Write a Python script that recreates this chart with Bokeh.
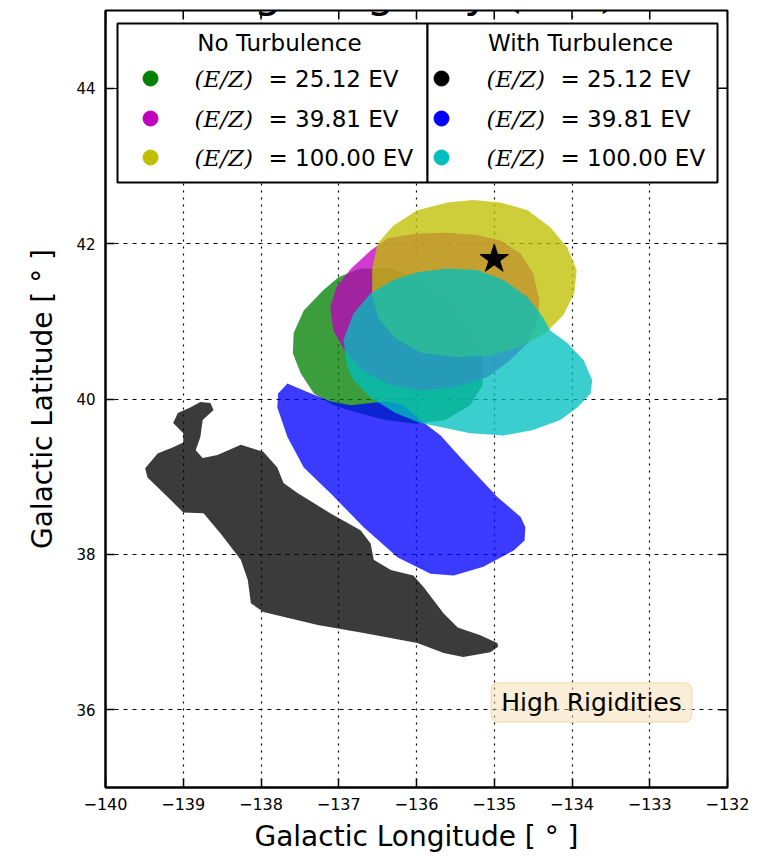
from bokeh.plotting import figure
from bokeh.models import Range1d, FixedTicker, Label, BoxAnnotation
from bokeh.embed import file_html
from bokeh.resources import INLINE

# ---------------- data ----------------
x_ticks = [-140, -139, -138, -137, -136, -135, -134, -133, -132]
x_tick_labels = ["−140", "−139", "−138", "−137", "−136", "−135", "−134", "−133", "−132"]
y_ticks = [36, 38, 40, 42, 44]
y_tick_labels = ["36", "38", "40", "42", "44"]

energies = ["25.12", "39.81", "100.00"]
no_turb_colors = ["#008000", "#bf00bf", "#bfbf00"]
turb_colors = ["#000000", "#0000ff", "#00bfbf"]

# No turbulence, E/Z = 25.12 EV (green)
nt25_lon = [-137.00, -137.20, -137.45, -137.58, -137.59, -137.49, -137.32, -137.07, -136.78, -136.40,
            -136.01, -135.63, -135.31, -135.15, -135.15, -135.31, -135.56, -135.95, -136.33, -136.72]
nt25_lat = [41.57, 41.40, 41.14, 40.85, 40.59, 40.33, 40.07, 39.92, 39.83, 39.73,
            39.68, 39.73, 39.92, 40.18, 40.56, 40.95, 41.27, 41.53, 41.68, 41.68]
# No turbulence, E/Z = 39.81 EV (magenta)
nt39_lon = [-136.59, -136.37, -135.99, -135.60, -135.22, -134.92, -134.66, -134.50, -134.42, -134.44, -134.57,
            -134.83, -135.09, -135.52, -135.95, -136.33, -136.66, -136.91, -137.07, -137.11, -137.03, -136.84]
nt39_lat = [41.91, 42.07, 42.13, 42.14, 42.11, 42.04, 41.87, 41.62, 41.27, 41.01, 40.72,
            40.47, 40.28, 40.15, 40.11, 40.18, 40.34, 40.60, 40.88, 41.18, 41.44, 41.68]
# No turbulence, E/Z = 100.00 EV (yellow)
nt100_lon = [-136.50, -136.30, -135.99, -135.60, -135.27, -134.92, -134.57, -134.28, -134.06, -133.94, -133.97,
             -134.11, -134.34, -134.66, -135.05, -135.50, -135.95, -136.27, -136.49, -136.57, -136.57]
nt100_lat = [42.00, 42.23, 42.43, 42.53, 42.56, 42.53, 42.43, 42.21, 41.95, 41.66, 41.36,
             41.08, 40.85, 40.67, 40.56, 40.54, 40.60, 40.78, 41.04, 41.33, 41.68]
# With turbulence, E/Z = 25.12 EV (black)
wt25_lon = [-134.96, -134.95, -135.05, -135.40, -135.65, -135.99, -136.68, -137.27, -137.97, -138.13, -138.17,
            -138.26, -138.52, -138.74, -139.00, -139.20, -139.46, -139.49, -139.33, -139.13, -139.00, -139.00,
            -139.13, -139.07, -138.91, -138.78, -138.65, -138.61, -138.75, -138.78, -138.84, -138.75, -138.56,
            -138.26, -137.97, -137.79, -137.71, -137.53, -137.11, -136.72, -136.59, -136.55, -136.33, -136.04,
            -135.91, -135.65, -135.47, -135.18]
wt25_lat = [36.86, 36.81, 36.74, 36.68, 36.73, 36.86, 36.99, 37.09, 37.26, 37.37, 37.67,
            37.93, 38.27, 38.53, 38.54, 38.74, 38.99, 39.11, 39.30, 39.38, 39.44, 39.56,
            39.69, 39.82, 39.89, 39.96, 39.95, 39.86, 39.73, 39.51, 39.34, 39.24, 39.28,
            39.41, 39.32, 39.12, 38.92, 38.79, 38.53, 38.31, 38.14, 37.93, 37.80, 37.73,
            37.58, 37.24, 37.06, 36.96]
# With turbulence, E/Z = 39.81 EV (blue)
wt39_lon = [-137.66, -137.45, -137.11, -136.85, -136.59, -136.37, -136.17, -135.95, -135.69, -135.40, -134.96,
            -134.66, -134.60, -134.61, -134.75, -135.14, -135.52, -135.82, -136.24, -136.68, -137.11, -137.45,
            -137.66, -137.79, -137.78]
wt39_lat = [40.20, 40.11, 39.97, 39.92, 39.95, 39.97, 39.92, 39.73, 39.53, 39.21, 38.74,
            38.48, 38.35, 38.18, 38.05, 37.84, 37.73, 37.75, 37.96, 38.35, 38.79, 39.12,
            39.51, 39.89, 40.07]
# With turbulence, E/Z = 100.00 EV (cyan)
wt100_lon = [-135.60, -135.22, -134.88, -134.57, -134.37, -134.28, -134.06, -133.85, -133.74, -133.76, -133.93,
             -134.15, -134.50, -134.88, -135.31, -135.69, -135.95, -136.27, -136.59, -136.81, -136.89, -136.94,
             -136.81, -136.59, -136.30, -135.99]
wt100_lat = [41.68, 41.66, 41.53, 41.31, 41.05, 40.88, 40.72, 40.50, 40.24, 40.07, 39.89,
             39.73, 39.60, 39.53, 39.56, 39.64, 39.69, 39.82, 40.02, 40.24, 40.41, 40.76,
             41.10, 41.36, 41.53, 41.63]

star_lon = [-135.0]
star_lat = [41.8]

# ---------------- layout helpers (pixel -> data, for annotations only) ----------------
FL, FW, FT, FH = 105, 622, 10, 777
X0, X1, Y0, Y1 = -140, -132, 35, 45
def sx(px):
    return X0 + (px - FL) * (X1 - X0) / FW
def sy(py):
    return Y1 - (py - FT) * (Y1 - Y0) / FH
TICK = 9  # inward tick length in px
tick_dx = TICK * (X1 - X0) / FW
tick_dy = TICK * (Y1 - Y0) / FH

FONT = "DejaVu Sans"

p = figure(width=774, height=856, x_range=Range1d(X0, X1), y_range=Range1d(Y0, Y1),
           output_backend="svg", toolbar_location=None, title=None,
           min_border_left=105, min_border_right=47, min_border_top=10, min_border_bottom=69)
p.background_fill_color = "white"
p.border_fill_color = "white"
p.outline_line_color = "black"
p.outline_line_width = 2

xa = p.xaxis[0]
xa.ticker = FixedTicker(ticks=x_ticks)
xa.major_label_overrides = {float(t): l for t, l in zip(x_ticks, x_tick_labels)}
xa.axis_label = "Galactic Longitude [ ° ]"
ya = p.yaxis[0]
ya.ticker = FixedTicker(ticks=y_ticks)
ya.major_label_overrides = {float(t): l for t, l in zip(y_ticks, y_tick_labels)}
ya.axis_label = "Galactic Latitude [ ° ]"
for ax in (xa, ya):
    ax.major_tick_in = TICK
    ax.major_tick_out = 0
    ax.minor_tick_line_color = None
    ax.major_tick_line_width = 1.5
    ax.axis_line_width = 2
    ax.major_label_text_font = FONT
    ax.major_label_text_color = "black"
    ax.major_label_standoff = 10
    ax.axis_label_text_font = FONT
    ax.axis_label_text_font_size = "28px"
    ax.axis_label_text_font_style = "normal"
    ax.axis_label_text_color = "black"
xa.major_label_text_font_size = "16px"
ya.major_label_text_font_size = "15px"
xa.axis_label_standoff = 7
ya.axis_label_standoff = 14

# inward ticks on the top and right edges
n_x = len(x_ticks)
n_y = len(y_ticks)
p.segment(x0=x_ticks, x1=x_ticks, y0=[Y1] * n_x, y1=[Y1 - tick_dy] * n_x, line_color="black", line_width=1.5)
p.segment(x0=[X1] * n_y, x1=[X1 - tick_dx] * n_y, y0=y_ticks, y1=y_ticks, line_color="black", line_width=1.5)

p.xgrid.ticker = FixedTicker(ticks=x_ticks)
p.ygrid.ticker = FixedTicker(ticks=y_ticks)
p.xgrid.grid_line_color = "black"
p.ygrid.grid_line_color = "black"
p.xgrid.grid_line_dash = "2 5"
p.ygrid.grid_line_dash = "4 5"
p.xgrid.grid_line_width = 1.2
p.ygrid.grid_line_width = 1.2

# ---------------- regions ----------------
A = 0.77
regions = [
    (nt25_lon, nt25_lat, no_turb_colors[0]),
    (nt39_lon, nt39_lat, no_turb_colors[1]),
    (nt100_lon, nt100_lat, no_turb_colors[2]),
    (wt25_lon, wt25_lat, turb_colors[0]),
    (wt39_lon, wt39_lat, turb_colors[1]),
    (wt100_lon, wt100_lat, turb_colors[2]),
]
for lon, lat, col in regions:
    p.patch(lon, lat, fill_color=col, fill_alpha=A, line_color=None)

p.scatter(star_lon, star_lat, marker="star", size=30, color="black")

# ---------------- title (cut off at the top, as in the reference) ----------------
p.add_layout(Label(x=sx(208), y=sy(-9), text="High Rigidity", text_font=FONT,
                   text_font_size="44px", text_baseline="alphabetic", text_align="left",
                   text_color="black"))
p.add_layout(Label(x=sx(508), y=sy(-9), text="(E/Z)", text_font="DejaVu Serif",
                   text_font_style="italic", text_font_size="44px", text_baseline="alphabetic",
                   text_align="left", text_color="black"))

# ---------------- legend ----------------
for l, r in ((117, 427), (427, 717)):
    p.add_layout(BoxAnnotation(left=sx(l), right=sx(r), top=sy(23), bottom=sy(182),
                               fill_color="white", fill_alpha=1.0, line_color="black",
                               line_alpha=1.0, line_width=2, level="underlay"))

row_py = [78, 118, 157]
cols = [(150, 194, 268, 279, "No Turbulence", no_turb_colors),
        (441, 486, 560, 580, "With Turbulence", turb_colors)]
for mk_px, ez_px, eq_px, title_px, title, colors in cols:
    p.add_layout(Label(x=sx(title_px), y=sy(42), text=title, text_font=FONT, text_font_size="23px",
                       text_align="center", text_baseline="middle", text_color="black"))
    p.scatter([sx(mk_px)] * 3, [sy(v) for v in row_py], marker="circle", size=15, color=colors)
    for e, py in zip(energies, row_py):
        p.add_layout(Label(x=sx(ez_px), y=sy(py), text="(E/Z)", text_font="DejaVu Serif",
                           text_font_style="italic", text_font_size="23px", text_align="left",
                           text_baseline="middle", text_color="black"))
        p.add_layout(Label(x=sx(eq_px), y=sy(py), text="= " + e + " EV", text_font=FONT,
                           text_font_size="23px", text_align="left", text_baseline="middle",
                           text_color="black"))

# ---------------- "High Rigidities" box ----------------
p.add_layout(Label(x=sx(591), y=sy(702), text="High Rigidities", text_font=FONT, text_font_size="25px",
                   text_align="center", text_baseline="middle", text_color="black",
                   background_fill_color="wheat", background_fill_alpha=0.5,
                   border_line_color="wheat", border_line_alpha=0.9, border_line_width=1.5,
                   padding=(10, 5), border_radius=7))

open("out.html", "w").write(file_html(p, INLINE))
